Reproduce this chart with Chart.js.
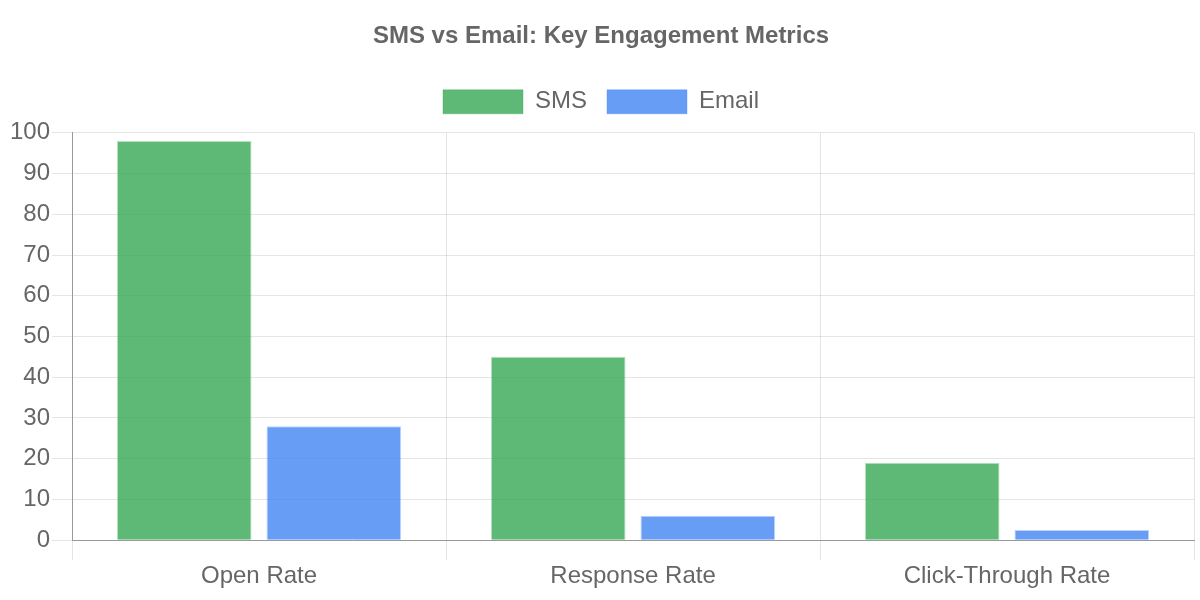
<!DOCTYPE html>
<html>
<head>
<meta charset="utf-8">
<script src="https://cdn.jsdelivr.net/npm/chart.js@4/dist/chart.umd.min.js"></script>
<style>
  html, body { margin: 0; padding: 0; background: #fff; }
  #wrap { width: 1200px; height: 600px; }
</style>
</head>
<body>
<div id="wrap"><canvas id="engagementChart"></canvas></div>
<script>
const categories = ['Open Rate', 'Response Rate', 'Click-Through Rate'];
const smsValues = [98, 45, 19];
const emailValues = [28, 6, 2.5];
const yTicks = [0, 10, 20, 30, 40, 50, 60, 70, 80, 90, 100];

Chart.defaults.font.family = '"Liberation Sans", Arial, sans-serif';
Chart.defaults.color = '#666';

// a bit more room under the legend than Chart.js gives by default
const legendGap = {
    id: 'legendGap',
    beforeUpdate(chart) {
        const legend = chart.legend;
        if (!legend || legend._gapPatched) return;
        const fit = legend.fit;
        legend.fit = function () {
            fit.call(this);
            this.height += 9;
        };
        legend._gapPatched = true;
    }
};

const ctx = document.getElementById('engagementChart');
new Chart(ctx, {
    type: 'bar',
    data: {
        labels: categories,
        datasets: [
            {
                label: 'SMS',
                data: smsValues,
                backgroundColor: 'rgba(52, 168, 83, 0.8)',
                borderColor: 'rgba(52, 168, 83, 0.35)',
                borderWidth: 1
            },
            {
                label: 'Email',
                data: emailValues,
                backgroundColor: 'rgba(66, 133, 244, 0.8)',
                borderColor: 'rgba(66, 133, 244, 0.35)',
                borderWidth: 1
            }
        ]
    },
    plugins: [legendGap],
    options: {
        responsive: true,
        maintainAspectRatio: false,
        animation: false,
        layout: { padding: { left: 8, right: 6, top: 10, bottom: 7 } },
        plugins: {
            title: {
                display: true,
                text: 'SMS vs Email: Key Engagement Metrics',
                font: { size: 24, weight: 'bold' },
                padding: { top: 12, bottom: 19 }
            },
            legend: {
                labels: {
                    font: { size: 24 },
                    boxWidth: 80,
                    boxHeight: 24,
                    padding: 20
                }
            },
            tooltip: { enabled: false }
        },
        scales: {
            x: {
                grid: { color: 'rgba(0,0,0,0.1)', tickLength: 20 },
                border: { color: '#999' },
                ticks: { font: { size: 24 }, padding: 2 }
            },
            y: {
                min: 0,
                max: 100,
                afterBuildTicks: axis => { axis.ticks = yTicks.map(v => ({ value: v })); },
                grid: { color: 'rgba(0,0,0,0.1)', tickLength: 20 },
                border: { color: '#999' },
                ticks: { font: { size: 24 }, padding: 2 }
            }
        }
    }
});
</script>
</body>
</html>
